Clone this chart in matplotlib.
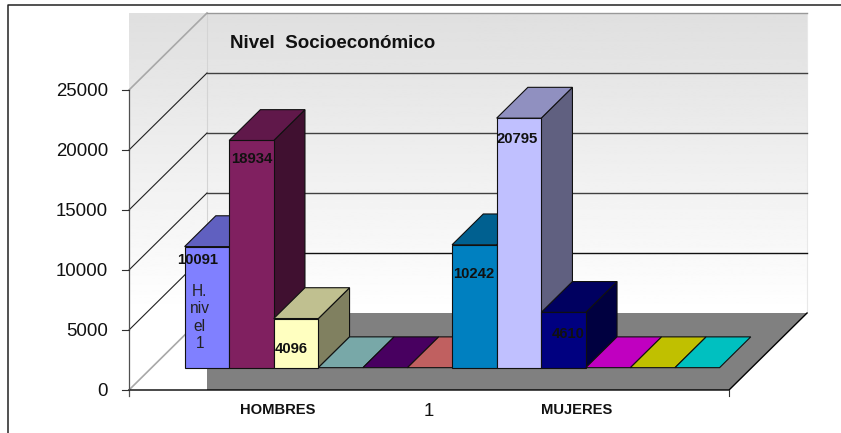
import numpy as np
import matplotlib
matplotlib.use("Agg")
import matplotlib.pyplot as plt
from matplotlib.patches import Polygon

plt.rcParams['font.family'] = ['Liberation Sans', 'DejaVu Sans']

# one 3D column per series, 12 series in the single category "1"
values = [10091, 18934, 4096, 0, 0, 0, 10242, 20795, 4610, 0, 0, 0]
data_labels = ["10091", "18934", "4096", "", "", "", "10242", "20795", "4610", "", "", ""]
face_colors = ["#8080ff", "#802060", "#ffffc0", "#a6caf0", "#600080", "#e08080",
               "#0080c0", "#c0c0ff", "#000080", "#c000c0", "#c0c000", "#00c0c0"]
top_colors = ["#6060c0", "#60184a", "#c0c090", "#78a8a8", "#480060", "#c06060",
              "#006090", "#9090c0", "#000060", "#c000c0", "#c0c000", "#00c0c0"]
side_colors = ["#40407f", "#401030", "#808060", "#78a8a8", "#480060", "#c06060",
               "#004060", "#606080", "#000040", "#c000c0", "#c0c000", "#00c0c0"]
y_ticks = [0, 5000, 10000, 15000, 20000, 25000]

W, H = 841, 433
X_UNIT = 44.58    # px per bar
Y_UNIT = 0.012    # px per value
N_UNITS = 13.46   # axis length in bars
DEPTH_X = 78 / X_UNIT
DEPTH_Y = 77 / Y_UNIT
BAR_GAP = 0.74
BAR_D0, BAR_D1 = 0.29, 0.69
YMAX = 25000


def project(x, v, d=0.0):
    # oblique projection: depth 0 is the front of the floor, 1 the back wall
    return (x + d * DEPTH_X, v + d * DEPTH_Y)


def figtext(px, py, s, **kw):
    return fig.text(px / W, 1 - py / H, s, ha=kw.pop("ha", "center"), va="center", **kw)


fig = plt.figure(figsize=(W / 100, H / 100), dpi=100)
ax = fig.add_axes([0, 0, 1, 1])
ax.axis("off")

# walls: grey at the top fading to white at the floor
grad = np.linspace(0.875, 1.0, 256).reshape(-1, 1)
x0, y0 = project(0, 0, 1)
x1, y1 = project(N_UNITS, YMAX, 1)
ax.imshow(grad, cmap="gray", vmin=0, vmax=1, extent=[0, x1, y0, y1], aspect="auto", zorder=0)

# floor
ax.add_patch(Polygon([(x0, 0), project(N_UNITS, 0, 0), project(N_UNITS, 0, 1), (x0, y0)],
                     closed=True, facecolor="#808080", edgecolor="none", zorder=1))

# gridlines on side and back wall
for t in y_ticks:
    fx, fy = project(0, t, 0)
    bx, by = project(0, t, 1)
    ex, ey = project(N_UNITS, t, 1)
    if t in (0, YMAX):
        c, lw = "#a8a8a8", 1.2
    else:
        c, lw = "#202020", 0.8
    ax.plot([fx, bx], [fy, by], color=c, lw=lw, zorder=1.5)
    if t > 0:
        back = "#999999" if t == YMAX else ("#101010" if t == 5000 else "#404040")
        ax.plot([bx, ex], [by, ey], color=back, lw=1.0, zorder=1.5)
ax.plot([x0, x0], [y0, y1], color="#d4d4d4", lw=0.8, zorder=1.2)
ax.plot([x1, x1], [y0, y1], color="#e8e8e8", lw=0.8, zorder=1.2)

# floor edges, axis lines and ticks
ax.plot([0, N_UNITS, x1], [0, 0, y0], color="black", lw=1.0, zorder=2)
ax.plot([0, 0], [0 - 6 / Y_UNIT, YMAX], color="#505050", lw=0.9, zorder=2)
ax.plot([N_UNITS, N_UNITS], [0, -6 / Y_UNIT], color="#303030", lw=0.8, zorder=2)
for t in y_ticks:
    ax.plot([-7 / X_UNIT, 0], [t, t], color="#303030", lw=0.8, zorder=2)
    figtext(108, 392 - t * Y_UNIT, str(t), ha="right", fontsize=13.4, color="#111111")

# bars, left to right so each one hides the side of the previous
z = 3
for i, v in enumerate(values):
    xl = BAR_GAP + i
    xr = xl + 1
    ec = "#101010"
    lw = 0.8
    z += 0.1
    if v > 0:
        ax.add_patch(Polygon([project(xr, 0, BAR_D0), project(xr, v, BAR_D0),
                              project(xr, v, BAR_D1), project(xr, 0, BAR_D1)],
                             closed=True, facecolor=side_colors[i], edgecolor=ec, lw=lw, zorder=z))
        ax.add_patch(Polygon([project(xl, 0, BAR_D0), project(xr, 0, BAR_D0),
                              project(xr, v, BAR_D0), project(xl, v, BAR_D0)],
                             closed=True, facecolor=face_colors[i], edgecolor=ec, lw=lw, zorder=z))
    ax.add_patch(Polygon([project(xl, v, BAR_D0), project(xr, v, BAR_D0),
                          project(xr, v, BAR_D1), project(xl, v, BAR_D1)],
                         closed=True, facecolor=top_colors[i], edgecolor=ec, lw=lw, zorder=z))

# value labels, offset by hand like in the original (px from bar front top centre)
label_offsets = {0: (-9, -13), 1: (0, -19), 2: (-5, -30), 6: (-1, -29), 7: (-2, -21), 8: (5, -22)}
for i, (dx, dy) in label_offsets.items():
    px, py = project(BAR_GAP + i + 0.5, values[i], BAR_D0)
    ax.annotate(data_labels[i], xy=(px, py), xytext=(dx, dy), textcoords="offset pixels",
                ha="center", va="center", fontsize=10.7, fontweight="bold",
                color="#111111", zorder=10)

px, py = project(BAR_GAP + 0.5, values[0], BAR_D0)
ax.annotate("H.\nniv\nel\n1", xy=(px, py), xytext=(-7, -71), textcoords="offset pixels",
            ha="center", va="center", fontsize=11.2, color="#222222", linespacing=1.21, zorder=10)

figtext(230, 43, "Nivel  Socioeconómico", ha="left", fontsize=13.5, fontweight="bold", color="#111111")
figtext(278, 410, "HOMBRES", fontsize=10.6, fontweight="bold", color="#111111")
figtext(429, 412, "1", fontsize=13.4, color="#111111")
figtext(577, 410, "MUJERES", fontsize=10.6, fontweight="bold", color="#111111")

ax.set_xlim(-129 / X_UNIT, (W - 129) / X_UNIT)
ax.set_ylim(-(H - 390) / Y_UNIT, 390 / Y_UNIT)

# outer chart frame, only top and left show in the picture
fig.add_artist(plt.Line2D([8 / W, 8 / W, 1], [0, 1 - 5 / H, 1 - 5 / H], color="#222222", lw=1.1))

fig.savefig("out.png", dpi=100)
